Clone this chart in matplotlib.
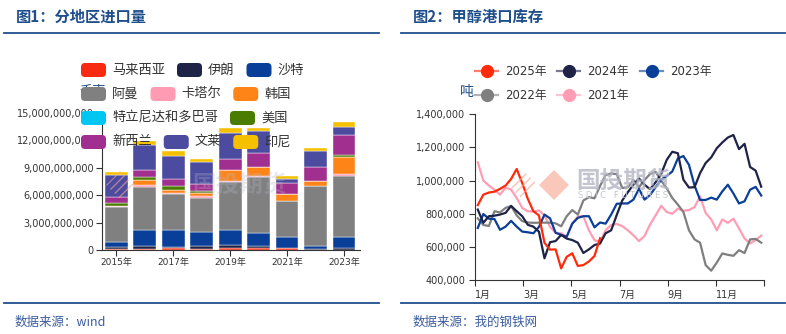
import numpy as np
import matplotlib
matplotlib.use("Agg")
import matplotlib.pyplot as plt
from matplotlib.patches import FancyBboxPatch, Polygon
from matplotlib.lines import Line2D
from matplotlib.transforms import IdentityTransform
from matplotlib.ticker import FuncFormatter

plt.rcParams['font.family'] = ['DejaVu Sans', 'Noto Sans CJK SC']

# ---- 图1 data (unit: 1e9) ----
years = ['2015年', '2016年', '2017年', '2018年', '2019年', '2020年', '2021年', '2022年', '2023年']
malaysia = [0.15, 0.15, 0.25, 0.10, 0.25, 0.19, 0.18, 0.05, 0.05]
iran = [0.15, 0.29, 0.05, 0.30, 0.30, 0.25, 0.00, 0.05, 0.18]
saudi = [0.60, 1.76, 1.85, 1.55, 1.65, 1.40, 1.20, 0.30, 1.17]
oman = [3.85, 4.65, 4.00, 3.75, 5.30, 6.15, 4.03, 6.60, 6.70]
qatar = [0.05, 0.29, 0.10, 0.20, 0.07, 0.07, 0.00, 0.05, 0.18]
korea = [0.00, 0.55, 0.35, 0.35, 1.17, 0.99, 0.73, 0.55, 1.90]
trinidad = [0.00, 0.00, 0.00, 0.00, 0.00, 0.00, 0.00, 0.00, 0.00]
usa = [0.30, 0.29, 0.45, 0.20, 0.07, 0.07, 0.00, 0.00, 0.22]
newzealand = [0.70, 0.81, 0.75, 0.75, 1.10, 1.54, 1.17, 1.54, 2.16]
brunei = [2.40, 2.67, 2.50, 2.40, 2.93, 2.35, 0.44, 1.68, 0.92]
indonesia = [0.33, 0.44, 0.55, 0.35, 0.55, 0.37, 0.30, 0.33, 0.55]

names = ['马来西亚', '伊朗', '沙特', '阿曼', '卡塔尔', '韩国',
         '特立尼达和多巴哥', '美国', '新西兰', '文莱', '印尼']
bar_colors = ['#F82B12', '#1E2447', '#0A3F99', '#808080', '#FF9BB3', '#FF8418',
              '#00C6F2', '#4A7C00', '#A02F8F', '#4B4BA0', '#F5C000']

# ---- 图2 data (吨, thousands, weekly) ----
months = ['1月', '3月', '5月', '7月', '9月', '11月', '']
y2025 = [852, 915, 928, 933, 950, 970, 1010, 1070, 985, 890, 815, 790, 625, 583,
         585, 470, 540, 561, 485, 490, 512, 545, 652]
y2024 = [825, 745, 785, 788, 795, 805, 847, 815, 785, 733, 722, 692, 531, 628, 635,
         672, 650, 641, 625, 563, 585, 611, 620, 682, 700, 792, 880, 930, 975, 1013,
         975, 948, 990, 1040, 1125, 1174, 1165, 1005, 958, 960, 1045, 1106, 1140,
         1195, 1230, 1260, 1275, 1190, 1222, 1082, 1060, 963]
y2023 = [714, 798, 770, 768, 703, 722, 757, 722, 692, 688, 682, 720, 795, 772, 685,
         672, 661, 740, 775, 785, 785, 718, 747, 740, 795, 860, 862, 862, 885, 950,
         885, 913, 960, 1005, 1028, 1055, 1134, 1148, 1095, 970, 883, 883, 897, 885,
         935, 975, 922, 862, 875, 945, 962, 910]
y2022 = [772, 732, 726, 815, 808, 835, 847, 790, 755, 747, 745, 746, 746, 746, 742,
         724, 785, 822, 795, 880, 900, 893, 967, 1033, 1043, 1039, 955, 960, 1003,
         960, 1003, 1040, 1053, 1000, 953, 895, 855, 810, 700, 645, 625, 490, 456,
         505, 560, 552, 546, 580, 563, 645, 648, 625]
y2021 = [1110, 1000, 970, 945, 915, 958, 945, 895, 835, 815, 813, 820, 790, 720, 685,
         682, 662, 740, 784, 784, 700, 640, 630, 700, 732, 738, 725, 700, 670, 635,
         665, 735, 790, 848, 810, 800, 830, 818, 822, 840, 905, 805, 765, 700, 765,
         745, 770, 712, 650, 621, 640, 668]
line_names = ['2025年', '2024年', '2023年', '2022年', '2021年']
line_colors = ['#FF2A0A', '#1F2346', '#0A3F99', '#7F7F7F', '#FF9DB4']

W, H = 786, 334
fig = plt.figure(figsize=(W / 100, H / 100), dpi=100)
ID = IdentityTransform()
BLUE = '#1F4E8C'
TXT = '#333333'


def rect(x0, y0, x1, y1):
    return [x0 / W, 1 - y1 / H, (x1 - x0) / W, (y1 - y0) / H]


def hline(x0, x1, y, lw=1.3):
    fig.add_artist(Line2D([x0, x1], [H - y, H - y], transform=ID, color=BLUE, lw=lw))


def diamond(cx, cy, r, **kw):
    pts = [(cx, H - cy + r), (cx + r, H - cy), (cx, H - cy - r), (cx - r, H - cy)]
    fig.add_artist(Polygon(pts, closed=True, transform=ID, **kw))


# headers / footers
fig.text(16 / W, 1 - 17 / H, '图1：分地区进口量', fontsize=11, weight='bold', color=BLUE,
         va='center', family=['Noto Sans CJK SC'])
fig.text(413 / W, 1 - 17 / H, '图2：甲醇港口库存', fontsize=11, weight='bold', color=BLUE,
         va='center', family=['Noto Sans CJK SC'])
hline(4, 379, 33)
hline(401, 785, 33)
hline(4, 379, 303)
hline(401, 785, 303)
fig.text(15 / W, 1 - 322 / H, '数据来源：wind', fontsize=9, color='#3A5C9E', style='italic',
         va='center', family=['Noto Sans CJK SC', 'DejaVu Sans'])
fig.text(413 / W, 1 - 322 / H, '数据来源：我的钢铁网', fontsize=9, color='#3A5C9E', style='italic',
         va='center', family=['Noto Sans CJK SC'])

# ---------------- 图1 ----------------
ax1 = fig.add_axes(rect(102, 113, 360, 250))
series = [malaysia, iran, saudi, oman, qatar, korea, trinidad, usa, newzealand, brunei, indonesia]
xpos = np.arange(len(years))
bottom = np.zeros(len(years))
for vals, c in zip(series, bar_colors):
    v = np.array(vals) * 1e9
    ax1.bar(xpos, v, 0.8, bottom=bottom, color=c, edgecolor='white', linewidth=0.3, zorder=2)
    bottom += v
ax1.set_xlim(-0.5, 8.56)
ax1.set_ylim(0, 15e9)
ax1.set_yticks(np.arange(0, 15e9 + 1, 3e9))
ax1.yaxis.set_major_formatter(FuncFormatter(lambda v, p: f'{v:,.0f}'))
ax1.set_xticks(xpos[::2])
ax1.set_xticklabels(years[::2])
for s in ['top', 'right']:
    ax1.spines[s].set_visible(False)
for s in ['left', 'bottom']:
    ax1.spines[s].set_color(TXT)
    ax1.spines[s].set_linewidth(0.8)
ax1.tick_params(axis='both', direction='out', length=4, width=0.8, colors=TXT, labelsize=7, pad=2)
ax1.tick_params(axis='x', labelsize=6.5)

# watermark (left)
fig.text(239 / W, 1 - 185 / H, '国投期货', fontsize=17, color='#B4B6C4', alpha=0.3,
         ha='center', va='center', weight='bold', family=['Noto Sans CJK SC'], zorder=5)
diamond(120, 185, 14, facecolor='none', edgecolor='#F7A898', hatch='////', lw=0, alpha=0.6, zorder=0.5)

# hidden unit label + legend
fig.text(79 / W, 1 - 91 / H, '千克', fontsize=9.5, color=BLUE, va='center',
         family=['Noto Sans CJK SC'], zorder=0.5)
rows = [[0, 1, 2], [3, 4, 5], [6, 7], [8, 9, 10]]
row_y = [70, 94, 118, 142]
renderer = fig.canvas.get_renderer()
for r, yy in zip(rows, row_y):
    x = 81
    for i in r:
        fig.add_artist(FancyBboxPatch((x, H - yy - 7), 25, 14,
                                      boxstyle='round,pad=0,rounding_size=4', transform=ID,
                                      facecolor=bar_colors[i], edgecolor='none', zorder=6))
        t = fig.text((x + 31) / W, 1 - yy / H, names[i], fontsize=9.5, color=TXT,
                     va='center', family=['Noto Sans CJK SC'], zorder=6)
        x = x + 31 + t.get_window_extent(renderer).width + 12

# ---------------- 图2 ----------------
ax2 = fig.add_axes(rect(475, 114.3, 764, 280))
# watermark (right)
diamond(523, 185, 15, facecolor='none', edgecolor='#F7A898', hatch='////', lw=0, alpha=0.7, zorder=0.5)
diamond(554, 185, 15, facecolor='#F9BBAA', edgecolor='none', alpha=0.8, zorder=0.5)
fig.text(623 / W, 1 - 181 / H, '国投期货', fontsize=17, color='#B4B6C4', alpha=0.8,
         ha='center', va='center', weight='bold', family=['Noto Sans CJK SC'], zorder=0.5)
fig.text(623 / W, 1 - 196 / H, 'S D I C   F U T U R E S', fontsize=6, color='#C4C6D0',
         ha='center', va='center', zorder=0.5)
ax2.patch.set_alpha(0)

all_lines = [y2025, y2024, y2023, y2022, y2021]
for vals, c, z in zip(all_lines, line_colors, [7, 6, 5, 4, 3]):
    xs = np.arange(len(vals)) + 0.5
    ax2.plot(xs, np.array(vals) * 1000, color=c, lw=1.6, zorder=z)
ax2.set_xlim(0, 52)
ax2.set_ylim(400000, 1400000)
ax2.set_yticks(np.arange(400000, 1400001, 200000))
ax2.yaxis.set_major_formatter(FuncFormatter(lambda v, p: f'{v:,.0f}'))
ax2.set_xticks(np.arange(7) * 52 / 6)
ax2.set_xticklabels(months)
for t in ax2.get_xticklabels():
    t.set_horizontalalignment('left')
for s in ['top', 'right']:
    ax2.spines[s].set_visible(False)
for s in ['left', 'bottom']:
    ax2.spines[s].set_color(TXT)
    ax2.spines[s].set_linewidth(0.8)
ax2.tick_params(axis='both', direction='out', length=4, width=0.8, colors=TXT, labelsize=7, pad=3)

fig.text(467 / W, 1 - 92 / H, '吨', fontsize=10, color=BLUE, ha='center', va='center',
         family=['Noto Sans CJK SC'])
leg_pos = [(475, 71), (557, 71), (640, 71), (475, 95), (557, 95)]
for (lx, ly), nm, c in zip(leg_pos, line_names, line_colors):
    fig.add_artist(Line2D([lx, lx + 23], [H - ly, H - ly], transform=ID, color=c, lw=1.6, alpha=0.6))
    fig.add_artist(Line2D([lx + 11.5], [H - ly], transform=ID, color=c, marker='o',
                          markersize=8.5, lw=0))
    fig.text((lx + 30) / W, 1 - ly / H, nm, fontsize=8.5, color=TXT, va='center')

fig.savefig('out.png', dpi=100)
